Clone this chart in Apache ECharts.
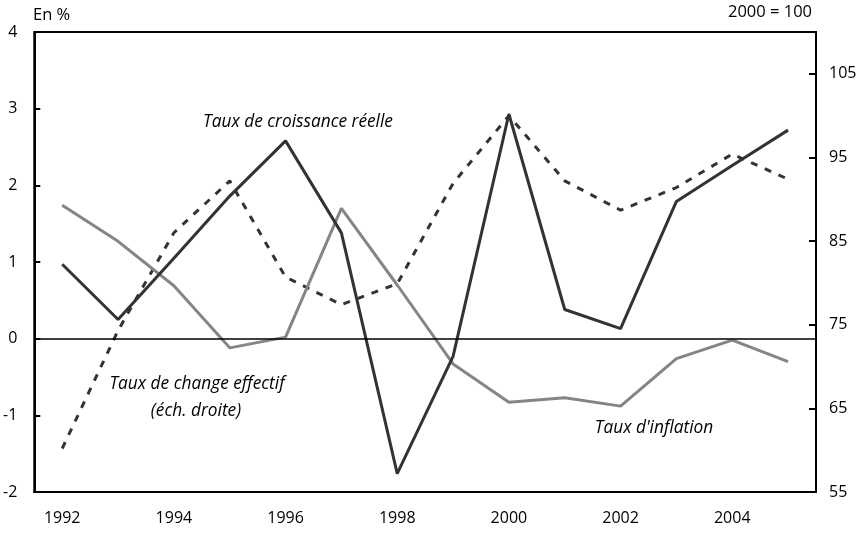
<!DOCTYPE html>
<html>
<head>
<meta charset="utf-8">
<script src="https://cdn.jsdelivr.net/npm/echarts@6/dist/echarts.min.js"></script>
<style>
html,body{margin:0;padding:0;background:#fff;}
#chart{width:865px;height:534px;}
</style>
</head>
<body>
<div id="chart"></div>
<script>
var years = ['1992','1993','1994','1995','1996','1997','1998','1999','2000','2001','2002','2003','2004','2005'];
var croissance = [0.97, 0.25, 1.05, 1.86, 2.58, 1.38, -1.76, -0.23, 2.93, 0.38, 0.13, 1.79, 2.26, 2.72];
var inflation = [1.74, 1.27, 0.69, -0.12, 0.02, 1.70, 0.70, -0.33, -0.83, -0.77, -0.88, -0.26, -0.02, -0.30];
var change = [60.2, 74.3, 86.0, 92.2, 80.7, 77.4, 79.9, 91.9, 100.0, 92.2, 88.7, 91.4, 95.4, 92.4];
var leftTicks = [-2, -1, 0, 1, 2, 3, 4];
var rightTicks = [55, 65, 75, 85, 95, 105];

var FONT = 'Open Sans';
var chart = echarts.init(document.getElementById('chart'));
chart.setOption({
  animation: false,
  backgroundColor: '#fff',
  textStyle: { fontFamily: FONT },
  grid: { left: 33, right: 49, top: 32, bottom: 42, show: true, borderColor: '#000', borderWidth: 2, backgroundColor: 'transparent' },
  xAxis: {
    type: 'category',
    data: years,
    boundaryGap: true,
    axisLine: { onZero: false, lineStyle: { color: '#000', width: 2 } },
    axisTick: { inside: true, alignWithLabel: true, interval: 1, length: 10, lineStyle: { color: '#000', width: 2 } },
    axisLabel: { interval: 1, color: '#000', fontSize: 16, fontFamily: FONT, margin: 18 },
    splitLine: { show: false }
  },
  yAxis: [
    {
      type: 'value', min: -2, max: 4, interval: 1, position: 'left',
      axisLine: { show: true, lineStyle: { color: '#000', width: 2 } },
      axisTick: { show: true, inside: true, length: 6, lineStyle: { color: '#000', width: 2 } },
      axisLabel: { color: '#000', fontSize: 16, fontFamily: FONT, margin: 17,
        customValues: leftTicks },
      splitLine: { show: false }
    },
    {
      type: 'value', min: 55, max: 110, position: 'right',
      axisLine: { show: true, lineStyle: { color: '#000', width: 2 } },
      axisTick: { show: true, inside: true, length: 7, lineStyle: { color: '#000', width: 2 }, customValues: rightTicks },
      axisLabel: { color: '#000', fontSize: 16, fontFamily: FONT, margin: 13, customValues: rightTicks },
      splitLine: { show: false }
    }
  ],
  series: [
    {
      name: 'Taux de change effectif', type: 'line', yAxisIndex: 1, data: change,
      symbol: 'none', lineStyle: { color: '#333', width: 3, type: [7, 8] }, z: 2
    },
    {
      name: "Taux d'inflation", type: 'line', yAxisIndex: 0, data: inflation,
      symbol: 'none', lineStyle: { color: '#858585', width: 3 }, z: 3
    },
    {
      name: 'Taux de croissance réelle', type: 'line', yAxisIndex: 0, data: croissance,
      symbol: 'none', lineStyle: { color: '#333', width: 3 }, z: 4,
      markLine: {
        silent: true, symbol: 'none', label: { show: false },
        lineStyle: { color: '#000', width: 1.5, type: 'solid' },
        data: [{ yAxis: 0 }]
      }
    }
  ],
  graphic: [
    { type: 'text', x: 33, y: 15, style: { text: 'En %', fontFamily: FONT, fontSize: 16.5, fill: '#000', verticalAlign: 'middle' } },
    { type: 'text', x: 812, y: 12, style: { text: '2000 = 100', fontFamily: FONT, fontSize: 16.5, fill: '#000', align: 'right', verticalAlign: 'middle' } },
    { type: 'text', x: 298, y: 122, style: { text: 'Taux de croissance réelle', fontFamily: FONT, fontStyle: 'italic', fontSize: 17.3, fill: '#000', align: 'center', verticalAlign: 'middle' } },
    { type: 'text', x: 197, y: 384, style: { text: 'Taux de change effectif', fontFamily: FONT, fontStyle: 'italic', fontSize: 17.3, fill: '#000', align: 'center', verticalAlign: 'middle' } },
    { type: 'text', x: 196, y: 411, style: { text: '(éch. droite)', fontFamily: FONT, fontStyle: 'italic', fontSize: 17.3, fill: '#000', align: 'center', verticalAlign: 'middle' } },
    { type: 'text', x: 654, y: 428, style: { text: "Taux d'inflation", fontFamily: FONT, fontStyle: 'italic', fontSize: 17.3, fill: '#000', align: 'center', verticalAlign: 'middle' } }
  ]
});
</script>
</body>
</html>
